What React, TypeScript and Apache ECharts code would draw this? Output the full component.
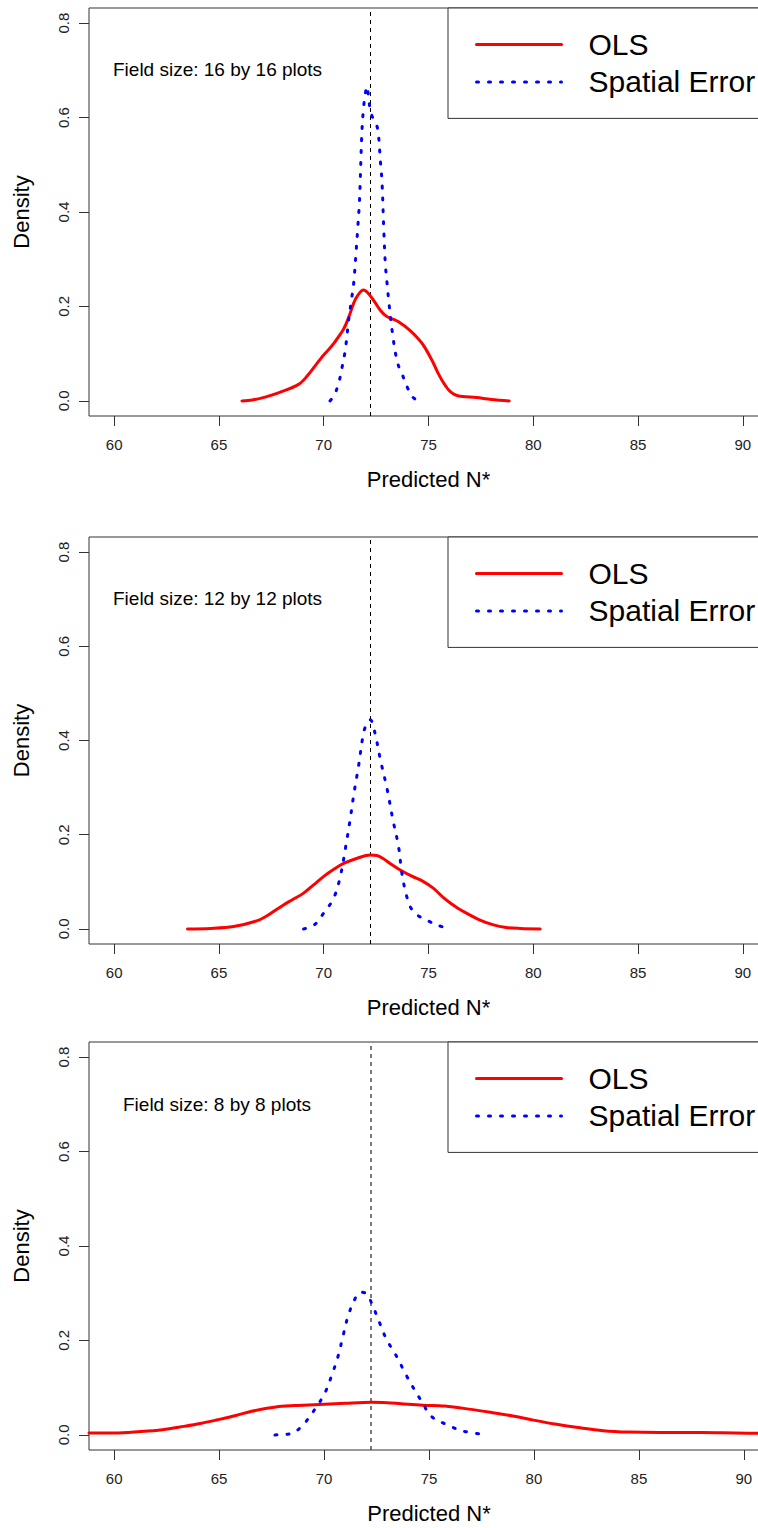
import React, { useEffect, useRef } from "react";
import * as echarts from "echarts";

// ---- data ----
const xTicks = [60, 65, 70, 75, 80, 85, 90];
const yTicks = [0, 0.2, 0.4, 0.6, 0.8];
const seriesNames = ["OLS", "Spatial Error"];
const panelLabels = [
  "Field size: 16 by 16 plots",
  "Field size: 12 by 12 plots",
  "Field size: 8 by 8 plots",
];
const trueNStar = 72.22;

const ols16 = [
  [66.1, 0], [66.6, 0.002], [67.2, 0.008], [67.9, 0.018], [68.8, 0.035],
  [69.2, 0.052], [69.67, 0.079], [69.9, 0.092], [70.2, 0.107], [70.5, 0.123],
  [70.95, 0.152], [71.2, 0.178], [71.43, 0.207], [71.6, 0.222], [71.9, 0.235],
  [72.1, 0.229], [72.38, 0.213], [72.7, 0.192], [73.0, 0.179], [73.3, 0.173],
  [73.55, 0.168], [74.1, 0.15], [74.5, 0.132], [74.8, 0.115], [75.2, 0.083],
  [75.5, 0.055], [75.75, 0.036], [76.05, 0.019], [76.4, 0.011], [77.3, 0.007],
  [78.0, 0.003], [78.85, 0],
];
const sem16 = [
  [70.3, 0], [70.5, 0.012], [70.71, 0.037], [70.87, 0.07], [71.03, 0.108],
  [71.19, 0.171], [71.31, 0.21], [71.43, 0.249], [71.55, 0.319], [71.63, 0.37],
  [71.71, 0.426], [71.82, 0.567], [71.9, 0.62], [71.98, 0.648], [72.06, 0.666],
  [72.14, 0.645], [72.22, 0.616], [72.38, 0.595], [72.54, 0.582], [72.62, 0.56],
  [72.7, 0.51], [72.78, 0.465], [72.86, 0.369], [72.94, 0.29], [73.02, 0.25],
  [73.1, 0.213], [73.26, 0.15], [73.45, 0.095], [73.6, 0.07], [73.73, 0.058],
  [73.9, 0.038], [74.05, 0.023], [74.25, 0.008], [74.5, 0],
];

const ols12 = [
  [63.5, 0], [64.6, 0.001], [65.7, 0.005], [66.8, 0.017], [67.3, 0.028],
  [68.08, 0.051], [68.5, 0.062], [69.04, 0.076], [69.5, 0.093], [69.99, 0.111],
  [70.5, 0.127], [70.95, 0.139], [71.6, 0.15], [72.22, 0.157], [72.54, 0.156],
  [72.85, 0.149], [73.17, 0.139], [73.65, 0.125], [74.2, 0.112], [74.7, 0.102],
  [75.24, 0.086], [75.7, 0.067], [76.04, 0.055], [76.4, 0.044], [76.83, 0.033],
  [77.4, 0.02], [78.1, 0.0085], [78.7, 0.003], [79.38, 0.001], [80.33, 0],
];
const sem12 = [
  [69.04, 0], [69.51, 0.007], [69.99, 0.033], [70.47, 0.065], [70.79, 0.111],
  [71.05, 0.175], [71.26, 0.232], [71.45, 0.29], [71.66, 0.345], [71.9, 0.416],
  [72.05, 0.435], [72.22, 0.444], [72.45, 0.415], [72.7, 0.36], [73.02, 0.298],
  [73.3, 0.232], [73.57, 0.175], [73.73, 0.118], [73.9, 0.08], [74.13, 0.047],
  [74.45, 0.03], [74.76, 0.022], [75.4, 0.0085], [76.0, 0],
];

const ols8 = [
  [58.8, 0.004], [60, 0.004], [61.25, 0.007], [62.3, 0.011], [63.32, 0.018],
  [64.1, 0.024], [64.93, 0.032], [65.8, 0.041], [66.55, 0.05], [67.7, 0.059],
  [68.6, 0.062], [69.54, 0.064], [71, 0.067], [72.29, 0.069], [73.0, 0.068],
  [73.67, 0.066], [74.7, 0.063], [75.75, 0.061], [77, 0.054], [78.04, 0.047],
  [79, 0.04], [79.89, 0.032], [81, 0.023], [82.2, 0.015], [83.3, 0.009],
  [84.49, 0.006], [86, 0.005], [88, 0.005], [89.56, 0.004], [91.2, 0.003],
];
const sem8 = [
  [67.66, 0], [68.37, 0.002], [68.93, 0.018], [69.56, 0.054], [70.04, 0.089],
  [70.35, 0.124], [70.67, 0.167], [70.9, 0.209], [71.14, 0.251], [71.46, 0.287],
  [71.73, 0.302], [72.02, 0.299], [72.33, 0.272], [72.65, 0.237], [72.98, 0.202],
  [73.46, 0.166], [73.86, 0.131], [74.25, 0.1], [74.65, 0.071], [75.12, 0.039],
  [75.83, 0.022], [76.63, 0.008], [77.82, 0],
];

const olsData = [ols16, ols12, ols8];
const semData = [sem16, sem12, sem8];

// ---- layout / style ----
const FONT = "'Liberation Sans', Arial, Helvetica, sans-serif";
const CHART_W = 800; // wider than the page: the plot box runs past the right edge
const panels = [
  { top: 8, height: 408, width: 679, labelX: 113, labelY: 70, vColor: "#000", vWidth: 1 },
  { top: 537, height: 407, width: 679, labelX: 113, labelY: 599, vColor: "#000", vWidth: 1 },
  { top: 1042, height: 408, width: 680, labelX: 123, labelY: 1105, vColor: "#555", vWidth: 1.6 },
];

function buildOption() {
  const grid: any[] = [];
  const xAxis: any[] = [];
  const yAxis: any[] = [];
  const series: any[] = [];
  const legend: any[] = [];
  const graphic: any[] = [];

  panels.forEach((p, i) => {
    grid.push({
      left: 89,
      top: p.top,
      width: p.width,
      height: p.height,
      show: true,
      borderColor: "#333",
      borderWidth: 1,
      backgroundColor: "transparent",
      containLabel: false,
      outerBoundsMode: "none",
    });
    xAxis.push({
      type: "value",
      gridIndex: i,
      position: "bottom",
      min: 58.8,
      max: 91.2,
      name: "Predicted N*",
      nameLocation: "middle",
      nameGap: 52,
      nameTextStyle: { fontSize: 22, color: "#000", fontFamily: FONT },
      axisLine: { show: false, onZero: false },
      axisTick: {
        show: true,
        inside: false,
        length: 10,
        customValues: xTicks,
        lineStyle: { color: "#333", width: 1 },
      },
      axisLabel: {
        show: true,
        customValues: xTicks,
        margin: 21,
        fontSize: 15,
        color: "#222",
        fontFamily: FONT,
      },
      splitLine: { show: false },
    });
    yAxis.push({
      type: "value",
      gridIndex: i,
      position: "left",
      min: -0.032,
      max: 0.832,
      name: "Density",
      nameLocation: "middle",
      nameGap: 57,
      nameRotate: 90,
      nameTextStyle: { fontSize: 22, color: "#000", fontFamily: FONT },
      axisLine: { show: false, onZero: false },
      axisTick: {
        show: true,
        inside: false,
        length: 10,
        customValues: yTicks,
        lineStyle: { color: "#333", width: 1 },
      },
      axisLabel: {
        show: true,
        customValues: yTicks,
        rotate: 90,
        margin: 18,
        fontSize: 15,
        color: "#222",
        fontFamily: FONT,
        formatter: (v: number) => v.toFixed(1),
      },
      splitLine: { show: false },
    });
    series.push({
      type: "line",
      name: seriesNames[0],
      xAxisIndex: i,
      yAxisIndex: i,
      data: olsData[i],
      smooth: 0.35,
      symbol: "none",
      lineStyle: { color: "#ff0000", width: 3, cap: "round", join: "round" },
      itemStyle: { color: "#ff0000" },
      z: 3,
      markLine: {
        silent: true,
        symbol: "none",
        label: { show: false },
        lineStyle: { color: p.vColor, width: p.vWidth, type: [4, 4] },
        emphasis: { disabled: true },
        data: [{ xAxis: trueNStar }],
        z: 1,
      },
    });
    series.push({
      type: "line",
      name: seriesNames[1],
      xAxisIndex: i,
      yAxisIndex: i,
      data: semData[i],
      smooth: 0.35,
      symbol: "none",
      lineStyle: { color: "#0000ff", width: 3, type: [2, 10], cap: "round", join: "round" },
      itemStyle: { color: "#0000ff" },
      z: 4,
    });
    legend.push({
      data: seriesNames,
      orient: "vertical",
      left: 448,
      top: p.top,
      padding: [21.5, 40, 21.5, 27],
      itemWidth: 85,
      itemHeight: 14,
      itemGap: 7.4,
      borderColor: "#333",
      borderWidth: 1,
      backgroundColor: "#fff",
      selectedMode: false,
      itemStyle: { opacity: 0 },
      lineStyle: { width: 3 },
      textStyle: { fontSize: 30, color: "#000", fontFamily: FONT, padding: [0, 0, 0, 22] },
    });
    graphic.push({
      type: "text",
      left: p.labelX,
      top: p.labelY - 10,
      style: {
        text: panelLabels[i],
        fontSize: 19,
        fontFamily: FONT,
        fill: "#000",
      },
    });
  });

  return {
    animation: false,
    backgroundColor: "#fff",
    grid,
    xAxis,
    yAxis,
    series,
    legend,
    graphic,
  };
}

export default function App() {
  const ref = useRef<HTMLDivElement>(null);
  useEffect(() => {
    if (!ref.current) return;
    const chart = echarts.init(ref.current, undefined, { renderer: "svg" });
    chart.setOption(buildOption());
    return () => chart.dispose();
  }, []);
  return (
    <div
      style={{
        position: "absolute",
        left: 0,
        top: 0,
        width: 758,
        height: 1528,
        overflow: "hidden",
        background: "#fff",
      }}
    >
      <div ref={ref} style={{ width: CHART_W, height: 1528 }} />
    </div>
  );
}
